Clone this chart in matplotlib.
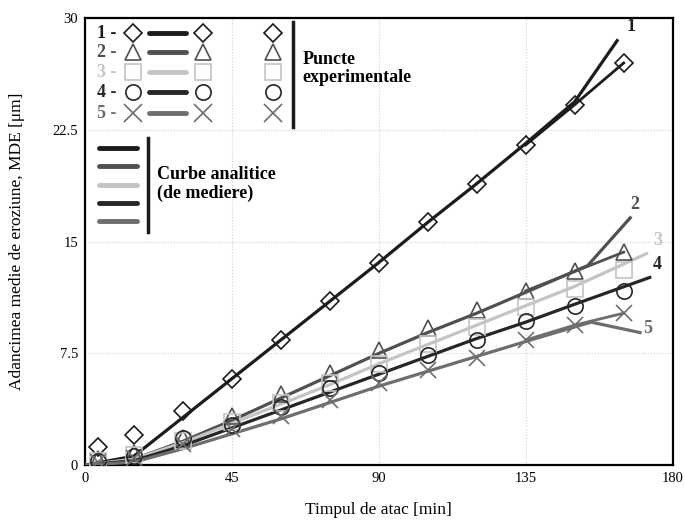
import numpy as np
import matplotlib.pyplot as plt

plt.rcParams['font.family'] = 'Liberation Serif'

# time of attack [min] for measured points
t_exp = [4, 15, 30, 45, 60, 75, 90, 105, 120, 135, 150, 165]

# measured mean erosion depth [um]
mde_1 = [1.2, 2.0, 3.6, 5.8, 8.4, 11.0, 13.6, 16.3, 18.9, 21.5, 24.2, 27.0]
mde_2 = [0.4, 0.8, 1.8, 3.3, 4.8, 6.2, 7.7, 9.2, 10.4, 11.7, 13.0, 14.3]
mde_3 = [0.3, 0.7, 1.6, 2.9, 4.2, 5.5, 6.8, 8.1, 9.3, 10.6, 11.8, 13.1]
mde_4 = [0.3, 0.6, 1.8, 2.7, 3.9, 5.2, 6.2, 7.4, 8.4, 9.7, 10.7, 11.7]
mde_5 = [0.2, 0.5, 1.4, 2.4, 3.3, 4.4, 5.5, 6.4, 7.2, 8.4, 9.4, 10.2]

# analytic (averaging) curves
fit_t_1 = [0, 15, 30, 45, 60, 75, 90, 105, 120, 135, 150, 163]
fit_1 = [0, 0.6, 3.2, 5.8, 8.4, 11.0, 13.6, 16.3, 18.9, 21.6, 24.4, 28.5]
fit_t_2 = [0, 15, 30, 45, 60, 75, 90, 105, 120, 135, 154, 167]
fit_2 = [0, 0.4, 1.6, 3.0, 4.5, 6.0, 7.5, 8.9, 10.2, 11.6, 13.4, 16.6]
fit_t_3 = [0, 15, 30, 45, 60, 75, 90, 105, 120, 135, 150, 172]
fit_3 = [0, 0.4, 1.5, 2.8, 4.1, 5.4, 6.8, 8.1, 9.4, 10.7, 12.0, 14.2]
fit_t_4 = [0, 15, 30, 45, 60, 75, 90, 105, 120, 135, 150, 173]
fit_4 = [0, 0.3, 1.3, 2.5, 3.7, 4.9, 6.1, 7.3, 8.5, 9.6, 10.8, 12.6]
fit_t_5 = [0, 15, 30, 45, 60, 75, 90, 105, 120, 135, 155, 170]
fit_5 = [0, 0.2, 1.1, 2.1, 3.1, 4.2, 5.3, 6.3, 7.3, 8.3, 9.6, 8.9]

series = [
    (mde_1, fit_t_1, fit_1, '#1c1c1c', 'D', '1', True),
    (mde_2, fit_t_2, fit_2, '#505050', '^', '2', True),
    (mde_3, fit_t_3, fit_3, '#c4c4c4', 's', '3', False),
    (mde_4, fit_t_4, fit_4, '#262626', 'o', '4', False),
    (mde_5, fit_t_5, fit_5, '#6e6e6e', 'x', '5', True),
]
lbl_pos = [(166, 28.9), (167, 16.9), (174, 14.5), (174, 12.9), (171, 8.6)]

fig = plt.figure(figsize=(6.85, 5.22), dpi=100)
ax = fig.add_axes([0.124, 0.109, 0.858, 0.856])

for (mde, ft, fy, col, mk, name, tail), (lx, ly) in zip(series, lbl_pos):
    ax.plot(ft, fy, color=col, lw=2.3, zorder=3)
    if tail:
        # line joining the last measured points (branch at the end)
        ax.plot(t_exp[-3:], mde[-3:], color=col, lw=2.0, zorder=3)
    if mk == 'x':
        ax.plot(t_exp, mde, ls='none', marker=mk, ms=12, mew=1.2, color=col, zorder=4)
    else:
        ms = 9 if mk == 'D' else 11
        ax.plot(t_exp, mde, ls='none', marker=mk, ms=ms, mew=1.2, mfc='none', mec=col, zorder=4)
    ax.text(lx, ly, name, fontsize=13, fontweight='bold', color=col, ha='left', va='bottom')

ax.set_xlim(0, 180)
ax.set_ylim(0, 30)
ax.set_xticks([0, 45, 90, 135, 180])
ax.set_yticks([0, 7.5, 15, 22.5, 30])
ax.set_yticklabels(['0', '7.5', '15', '22.5', '30'])
ax.tick_params(length=0, labelsize=10.5, pad=5)
ax.grid(True, color='#d0d0d0', lw=0.8, ls=':')
for s in ax.spines.values():
    s.set_linewidth(1.6)
ax.set_xlabel('Timpul de atac [min]', fontsize=12.5, labelpad=12)
ax.set_ylabel('Adancimea medie de eroziune, MDE [μm]', fontsize=12.5, labelpad=20)

# hand-made legend, in axes fraction
def fx(px):
    return (px - 85) / 588.0

def fy(py):
    return (465 - py) / 447.0

rows = [33, 52, 72, 92, 113]
for (mde, ft, fyv, col, mk, name, tail), r in zip(series, rows):
    tr = ax.transAxes
    ax.text(fx(97), fy(r), name + ' -', transform=tr, fontsize=13, fontweight='bold',
            color=col, va='center', ha='left')
    ms = 9 if mk == 'D' else 11
    for px in (133, 203, 273):
        if mk == 'x':
            ax.plot(fx(px), fy(r), marker='x', ms=13, mew=1.2, color=col, transform=tr)
        else:
            ax.plot(fx(px), fy(r), marker=mk, ms=ms, mew=1.2, mfc='none', mec=col, transform=tr)
    ax.plot([fx(149), fx(186)], [fy(r), fy(r)], color=col, lw=3.5,
            solid_capstyle='round', transform=tr)
ax.plot([fx(293), fx(293)], [fy(22), fy(127)], color='#1c1c1c', lw=2.5, transform=ax.transAxes)
ax.text(fx(303), fy(68), 'Puncte\nexperimentale', transform=ax.transAxes, fontsize=13,
        fontweight='bold', va='center', ha='left', linespacing=1.1)

rows2 = [148, 166, 185, 203, 221]
for (mde, ft, fyv, col, mk, name, tail), r in zip(series, rows2):
    ax.plot([fx(99), fx(137)], [fy(r), fy(r)], color=col, lw=3.5,
            solid_capstyle='round', transform=ax.transAxes)
ax.plot([fx(148), fx(148)], [fy(138), fy(232)], color='#1c1c1c', lw=2.5, transform=ax.transAxes)
ax.text(fx(157), fy(184), 'Curbe analitice\n(de mediere)', transform=ax.transAxes, fontsize=13,
        fontweight='bold', va='center', ha='left', linespacing=1.1)

plt.savefig('out.png', dpi=100)
